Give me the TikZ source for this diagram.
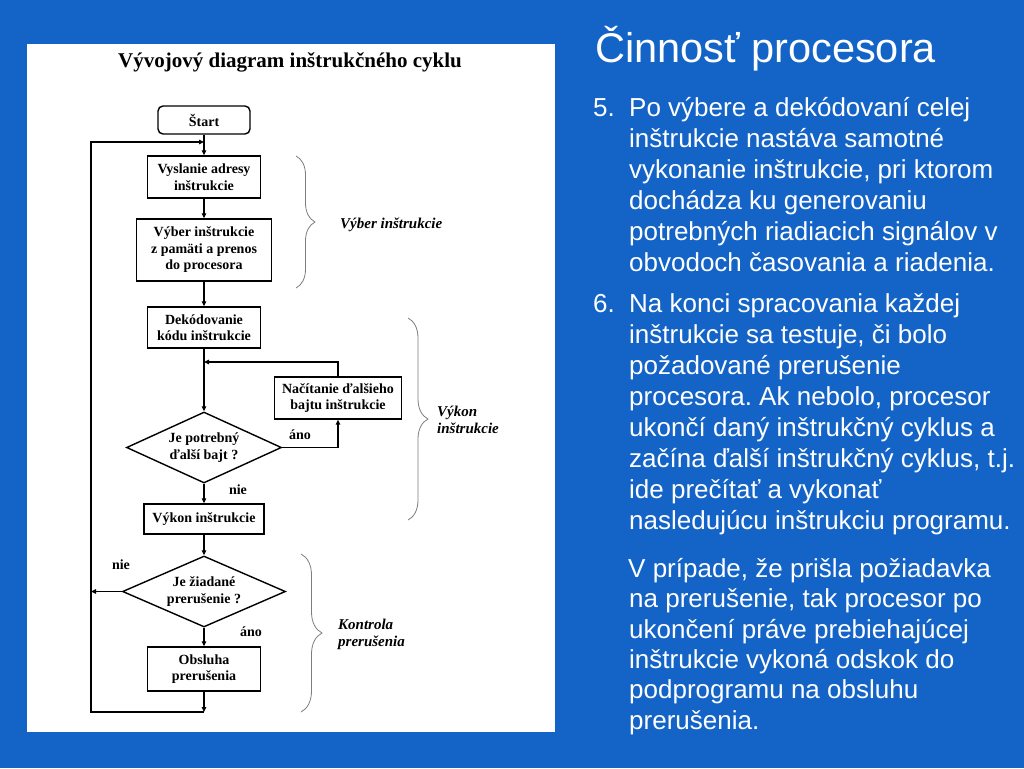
\documentclass[tikz,border=0pt]{standalone}
\usepackage{fontspec}
\setmainfont{Liberation Serif}
\newfontfamily\arialfam{Liberation Sans}
\usetikzlibrary{shapes.geometric,arrows.meta,decorations.pathreplacing}
\definecolor{slideblue}{RGB}{20,100,200}
\definecolor{bracegray}{RGB}{125,125,125}
\newcommand\dboxfont{\bfseries\fontsize{14}{16.5}\selectfont}
\frenchspacing
\begin{document}
\begin{tikzpicture}[x=1pt,y=-1pt,
  box/.style={draw, line width=1.4pt, fill=white, font=\dboxfont, align=center, inner sep=0pt},
  dia/.style={diamond, draw, line width=1.4pt, fill=white, font=\dboxfont, align=center, inner sep=0pt},
  arr/.style={line width=1.3pt, -{Triangle[length=5pt,width=4.5pt]}},
  yn/.style={font=\dboxfont, inner sep=0pt},
  lab/.style={font=\bfseries\itshape\fontsize{15}{17}\selectfont, inner sep=0pt, anchor=west, align=left},
  brc/.style={draw=bracegray, line width=0.8pt, decorate},
  body/.style={font=\arialfam\fontsize{26}{31}\selectfont, text=white, anchor=base west, inner sep=0pt}]
\useasboundingbox (0,0) rectangle (1024,768);
\fill[slideblue] (0,0) rectangle (1024,768);
\fill[white] (27,44) rectangle (555,732);

% diagram title
\node[font=\bfseries\fontsize{21}{25}\selectfont, anchor=base] (dtitle) at (290,67) {Vývojový diagram inštrukčného cyklu};

% nodes
\node[box, rounded corners=5pt, minimum width=92pt, minimum height=28pt] (start) at (204,120) {Štart};
\node[box, minimum width=113pt, minimum height=42pt] (vysl) at (204,177) {Vyslanie adresy\\inštrukcie};
\node[box, minimum width=135pt, minimum height=62pt] (vyber) at (204,250) {Výber inštrukcie\\z pamäti a prenos\\do procesora};
\node[box, minimum width=113pt, minimum height=41pt] (dek) at (204,327.5) {Dekódovanie\\kódu inštrukcie};
\node[box, minimum width=127pt, minimum height=42pt] (nac) at (338,398) {Načítanie ďalšieho\\bajtu inštrukcie};
\node[dia, shape aspect=2.2, minimum width=155pt, minimum height=71pt] (d1) at (204,447.5) {Je potrebný\\ďalší bajt ?};
\node[box, minimum width=120pt, minimum height=30pt] (vykon) at (204,519) {Výkon inštrukcie};
\node[dia, shape aspect=2.3, minimum width=163pt, minimum height=71pt] (d2) at (204,591.5) {Je žiadané\\prerušenie ?};
\node[box, minimum width=113pt, minimum height=44pt] (obs) at (204,669) {Obsluha\\prerušenia};

\coordinate (ltop) at (91,142);
\coordinate (lbot) at (91,712);
\coordinate (jtop) at (204,142);
\coordinate (jbot) at (204,712);
\coordinate (jnac) at (204,362);

% connectors
\draw[arr] (start.south) -- (vysl.north);
\draw[arr] (vysl.south) -- (vyber.north);
\draw[arr] (vyber.south) -- (dek.north);
\draw[arr] (dek.south) -- (d1.north);
\draw[arr] (nac.north) |- (jnac);
\draw[arr] (d1.east) -| (nac.south);
\draw[arr] (d1.south) -- (vykon.north);
\draw[arr] (vykon.south) -- (d2.north);
\draw[arr] (d2.south) -- (obs.north);
\draw[arr] (d2.west) -- (d2.west -| ltop);
\draw[arr] (obs.south) -- (jbot);
\draw[arr] (jbot) -- (lbot) -- (ltop) -- (jtop);

% yes/no labels
\node[yn] (ano1) at (300,435) {áno};
\node[yn] (nie1) at (238,490) {nie};
\node[yn] (nie2) at (121,565) {nie};
\node[yn] (ano2) at (251,632) {áno};

% braces
\draw[brc, decoration={brace, amplitude=19pt}] (296,156) -- (296,288);
\draw[brc, decoration={brace, amplitude=20pt}] (408,318) -- (408,520);
\draw[brc, decoration={brace, amplitude=21pt}] (301,554) -- (301,712);
\node[lab] (lb1) at (340,225) {Výber inštrukcie};
\node[lab] (lb2) at (437,420) {Výkon\\inštrukcie};
\node[lab] (lb3) at (338,634) {Kontrola\\prerušenia};

% slide title
\node[font=\arialfam\fontsize{41.5}{48}\selectfont, text=white, anchor=base west, inner sep=0pt] (stitle) at (595,63) {Činnosť procesora};

% item 5
\node[body] (n5) at (593,116) {5.};
\node[body] (a1) at (629,116) {Po výbere a dekódovaní celej};
\node[body] (a2) at (629,147) {inštrukcie nastáva samotné};
\node[body] (a3) at (629,178) {vykonanie inštrukcie, pri ktorom};
\node[body] (a4) at (629,209) {dochádza ku generovaniu};
\node[body] (a5) at (629,240) {potrebných riadiacich signálov v};
\node[body] (a6) at (629,271) {obvodoch časovania a riadenia.};

% item 6
\node[body] (n6) at (593,312) {6.};
\node[body] (b1) at (629,312) {Na konci spracovania každej};
\node[body] (b2) at (629,343) {inštrukcie sa testuje, či bolo};
\node[body] (b3) at (629,374) {požadované prerušenie};
\node[body] (b4) at (629,405) {procesora. Ak nebolo, procesor};
\node[body] (b5) at (629,436) {ukončí daný inštrukčný cyklus a};
\node[body] (b6) at (629,467) {začína ďalší inštrukčný cyklus, t.j.};
\node[body] (b7) at (629,498) {ide prečítať a vykonať};
\node[body] (b8) at (629,529) {nasledujúcu inštrukciu programu.};

% paragraph
\node[body] (c1) at (628,577) {V prípade, že prišla požiadavka};
\node[body] (c2) at (629,607) {na prerušenie, tak procesor po};
\node[body] (c3) at (629,638) {ukončení práve prebiehajúcej};
\node[body] (c4) at (629,668) {inštrukcie vykoná odskok do};
\node[body] (c5) at (629,698) {podprogramu na obsluhu};
\node[body] (c6) at (629,729) {prerušenia.};
\end{tikzpicture}
\end{document}
